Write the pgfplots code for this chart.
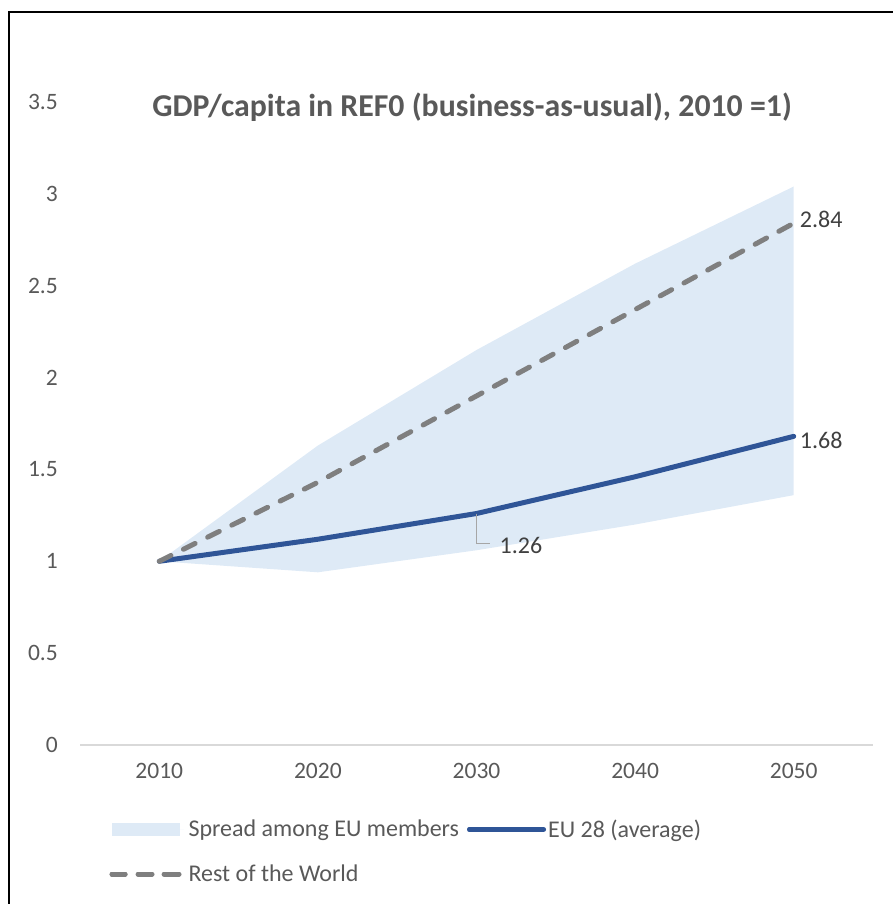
\documentclass[border=0pt]{standalone}
\usepackage{pgfplots}
\pgfplotsset{compat=1.18}
\usepackage{fontspec}
\setmainfont{Carlito}
\definecolor{band}{HTML}{DEEAF6}
\definecolor{eublue}{HTML}{2F5597}
\definecolor{rowgray}{HTML}{7F7F7F}
\definecolor{ticktxt}{HTML}{595959}
\definecolor{labtxt}{HTML}{404040}
\definecolor{axisln}{HTML}{D9D9D9}
\begin{document}
\begin{tikzpicture}
\useasboundingbox (0,0) rectangle (893pt,904pt);
\draw[line width=2.5pt] (9pt,-10pt) -- (9pt,892pt) -- (905pt,892pt);
\node[font=\fontsize{31.8}{36}\selectfont\bfseries, text=ticktxt] at (472pt,797pt) {GDP/capita in REF0 (business-as-usual), 2010 =1)};
\begin{axis}[
  at={(80pt,159pt)}, anchor=south west,
  width=793pt, height=643pt, scale only axis,
  xmin=2005, xmax=2055, ymin=0, ymax=3.5,
  xtick={2010,2020,2030,2040,2050},
  ytick={0,0.5,1,1.5,2,2.5,3,3.5},
  xticklabel style={/pgf/number format/1000 sep={}},
  /pgf/number format/assume math mode=true,
  major tick length=0pt,
  axis x line*=bottom, axis y line*=left,
  x axis line style={draw=axisln, line width=1.5pt, -},
  y axis line style={draw=none},
  tick label style={font=\fontsize{23.5}{28}\selectfont, text=ticktxt, inner sep=0pt},
  yticklabel style={xshift=-22pt},
  xticklabel style={yshift=-18pt},
  legend columns=2,
  legend cell align=left,
  legend style={draw=none, fill=none, inner sep=0pt,
    at={(axis description cs:0.037,-0.113)}, anchor=north west,
    font=\fontsize{24}{28}\selectfont, text=ticktxt,
    /tikz/every even column/.append style={column sep=6pt},
    row sep=22pt},
]
\addplot[fill=band, draw=none,
  legend image code/.code={\fill[band] (0pt,-6.5pt) rectangle (68pt,6.5pt); \path (0pt,0pt) -- (72pt,0pt);}]
  coordinates {(2010,1.00) (2020,0.94) (2030,1.06) (2040,1.20) (2050,1.36)
               (2050,3.04) (2040,2.62) (2030,2.15) (2020,1.63) (2010,1.00)} -- cycle;
\addlegendentry{Spread among EU members}
\addplot[eublue, line width=5pt, line cap=round, line join=round,
  legend image code/.code={\draw[eublue, line width=5pt, line cap=round] (0pt,0pt) -- (70pt,0pt); \path (0pt,0pt) -- (74pt,0pt);}]
  coordinates {(2010,1.00) (2020,1.12) (2030,1.26) (2040,1.46) (2050,1.68)};
\addlegendentry{EU 28 (average)}
\addplot[rowgray, line width=5pt, line cap=round, dash pattern=on 13pt off 14pt,
  legend image code/.code={\draw[rowgray, line width=5pt, line cap=round, dash pattern=on 13pt off 13pt] (0pt,0pt) -- (66pt,0pt); \path (0pt,0pt) -- (72pt,0pt);}]
  coordinates {(2010,1.00) (2020,1.43) (2030,1.90) (2040,2.37) (2050,2.84)};
\addlegendentry{Rest of the World}
\node[anchor=west, font=\fontsize{24}{28}\selectfont, text=labtxt, inner sep=0pt] at (axis cs:2050,2.84) [xshift=6pt,yshift=4pt] {2.84};
\node[anchor=west, font=\fontsize{24}{28}\selectfont, text=labtxt, inner sep=0pt] at (axis cs:2050,1.68) [xshift=6pt,yshift=-4pt] {1.68};
\draw[gray!70, line width=1pt] (axis cs:2030,1.26) -- ++(0pt,-30pt) -- ++(13pt,0pt);
\node[anchor=west, font=\fontsize{24}{28}\selectfont, text=labtxt, inner sep=0pt] at (axis cs:2030,1.26) [xshift=23pt,yshift=-32pt] {1.26};
\end{axis}
\end{tikzpicture}
\end{document}
